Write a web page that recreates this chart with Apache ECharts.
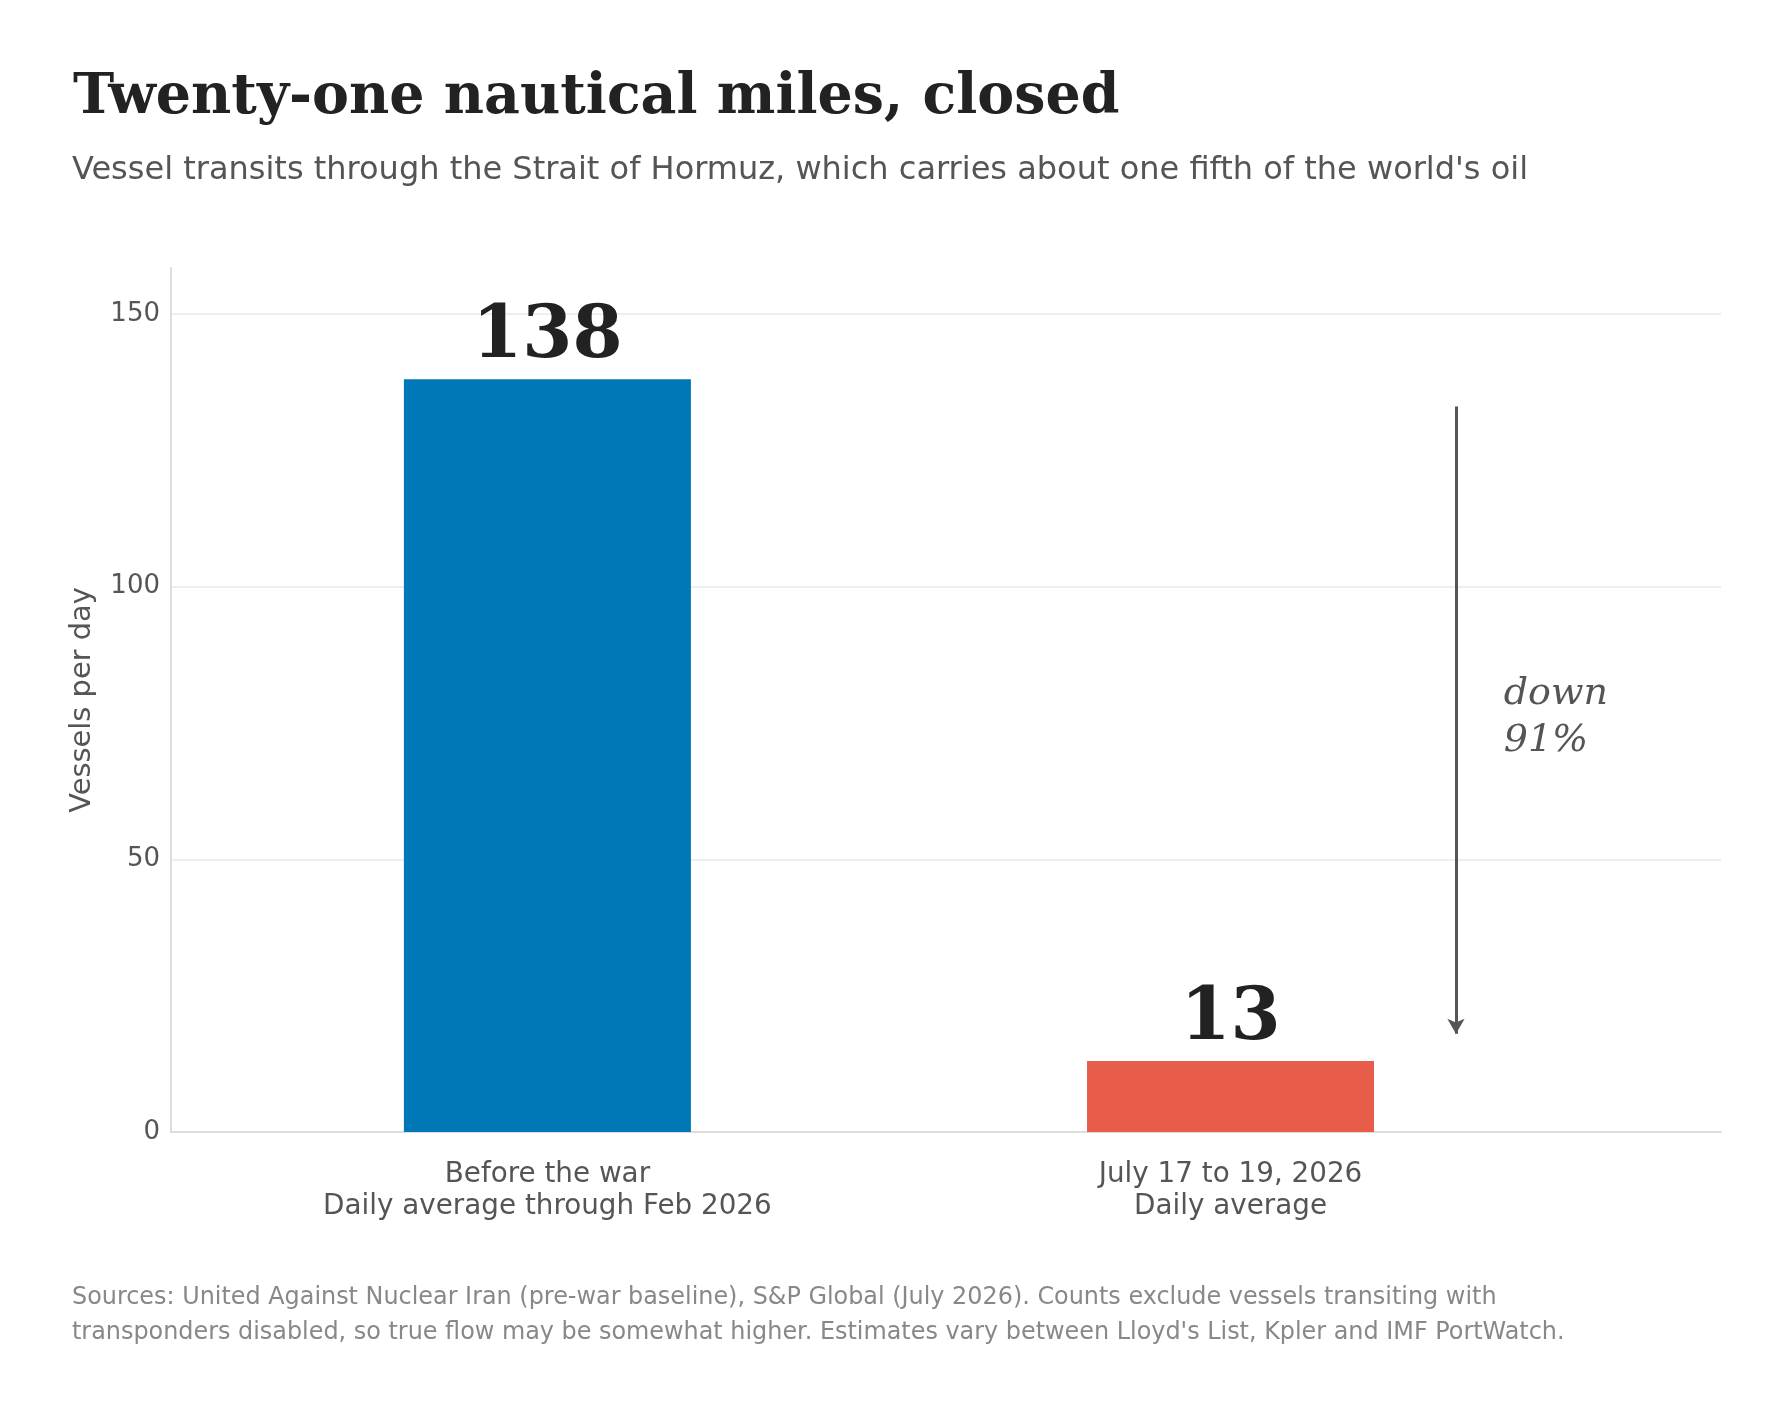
<!DOCTYPE html>
<html>
<head>
<meta charset="utf-8">
<title>Twenty-one nautical miles, closed</title>
<script src="https://cdn.jsdelivr.net/npm/echarts@6/dist/echarts.min.js"></script>
<style>
  html, body { margin: 0; padding: 0; background: #fff; }
  #chart { width: 1791px; height: 1414px; }
</style>
</head>
<body>
<div id="chart"></div>
<script>
// values
const periods = ['Before the war\nDaily average through Feb 2026', 'July 17 to 19, 2026\nDaily average'];
const periodPos = [0, 1];
const vesselsPerDay = [138, 13];
const barColors = ['#0077b6', '#e85d4a'];
const arrowFrom = 133;   // just under the first bar
const arrowTo = 18;      // just above the second bar
const changeNote = 'down\n91%';

const serif = 'DejaVu Serif';
const sans = 'DejaVu Sans';

let chart = echarts.init(document.getElementById('chart'), null, { renderer: 'canvas' });

chart.setOption({
    backgroundColor: '#fff',
    animation: false,
    title: [
        {
            text: 'Twenty-one nautical miles, closed',
            left: 68,
            top: 60,
            textStyle: { fontFamily: serif, fontWeight: 'bold', fontSize: 55.4, lineHeight: 67, color: '#222' }
        },
        {
            text: "Vessel transits through the Strait of Hormuz, which carries about one fifth of the world's oil",
            left: 67,
            top: 147,
            textStyle: { fontFamily: sans, fontWeight: 'normal', fontSize: 32, lineHeight: 38, color: '#555' }
        },
        {
            text: "Sources: United Against Nuclear Iran (pre-war baseline), S&P Global (July 2026). Counts exclude vessels transiting with\ntransponders disabled, so true flow may be somewhat higher. Estimates vary between Lloyd's List, Kpler and IMF PortWatch.",
            left: 67,
            top: 1275,
            textStyle: { fontFamily: sans, fontWeight: 'normal', fontSize: 23.9, lineHeight: 35, color: '#888' }
        }
    ],
    grid: { left: 171, right: 70, top: 268, bottom: 282, containLabel: false },
    xAxis: {
        type: 'value',
        min: -0.551,
        max: 1.718,
        axisLine: { show: true, onZero: false, lineStyle: { color: '#dddddd', width: 2 } },
        axisTick: { show: false },
        splitLine: { show: false },
        axisLabel: {
            margin: 27,
            fontFamily: sans,
            fontSize: 27.8,
            lineHeight: 32,
            color: '#555',
            align: 'center',
            showMinLabel: false,
            showMaxLabel: false,
            formatter: function (v) {
                for (let i = 0; i < periodPos.length; i++) {
                    if (Math.abs(v - periodPos[i]) < 1e-6) return periods[i];
                }
                return '';
            }
        }
    },
    yAxis: {
        type: 'value',
        min: 0,
        max: 158.4,
        interval: 50,
        name: 'Vessels per day',
        nameLocation: 'middle',
        nameGap: 74,
        nameTextStyle: { fontFamily: sans, fontSize: 28.9, color: '#555' },
        axisLine: { show: true, onZero: false, lineStyle: { color: '#dddddd', width: 2 } },
        axisTick: { show: false },
        axisLabel: {
            margin: 11,
            fontFamily: sans,
            fontSize: 26,
            color: '#555',
            showMaxLabel: false
        },
        splitLine: { show: true, showMaxLine: false, lineStyle: { color: '#eeeeee', width: 2 } }
    },
    series: [
        {
            type: 'bar',
            barWidth: 287,
            data: vesselsPerDay.map(function (v, i) {
                return { value: [periodPos[i], v], itemStyle: { color: barColors[i] } };
            }),
            label: {
                show: true,
                position: 'top',
                distance: 4.5,
                fontFamily: serif,
                fontWeight: 'bold',
                fontSize: 72,
                lineHeight: 72,
                color: '#222',
                formatter: function (p) { return p.value[1]; }
            },
            markLine: {
                silent: true,
                animation: false,
                symbol: ['none', 'arrow'],
                symbolSize: [13, 15],
                label: { show: false },
                lineStyle: { color: '#555', width: 3, type: 'solid' },
                data: [[{ coord: [1.33, arrowFrom] }, { coord: [1.33, arrowTo] }]]
            },
            markPoint: {
                silent: true,
                symbolSize: 0,
                data: [{
                    coord: [1.4, 75.9],
                    label: {
                        show: true,
                        position: 'right',
                        distance: 0,
                        formatter: changeNote,
                        fontFamily: serif,
                        fontStyle: 'italic',
                        fontSize: 38,
                        lineHeight: 47,
                        color: '#555',
                        align: 'left',
                        verticalAlign: 'middle'
                    }
                }]
            }
        }
    ]
});
</script>
</body>
</html>
